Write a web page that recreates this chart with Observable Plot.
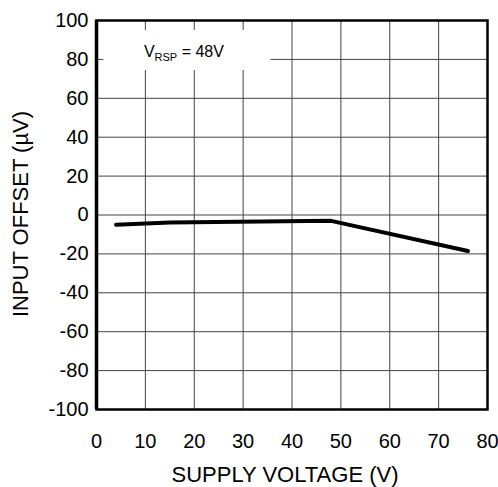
<!DOCTYPE html>
<html>
<head>
<meta charset="utf-8">
<script src="https://cdn.jsdelivr.net/npm/d3@7"></script>
<script src="https://cdn.jsdelivr.net/npm/@observablehq/plot@0.6"></script>
<style>
html,body{margin:0;padding:0;background:#fff;}
svg{display:block;}
</style>
</head>
<body>
<div id="chart"></div>
<script>
const supplyVoltage = [4, 15, 48, 76];
const inputOffset = [-5, -3.8, -3, -18.5];
const xTicks = [0, 10, 20, 30, 40, 50, 60, 70, 80];
const yTicks = [-100, -80, -60, -40, -20, 0, 20, 40, 60, 80, 100];
const annotation = {main: "V", sub: "RSP", rest: " = 48V"};

const data = supplyVoltage.map((v, i) => ({x: v, y: inputOffset[i]}));
const font = "'Liberation Sans', Arial, sans-serif";
const fmt = d => String(d);

const plot = Plot.plot({
  width: 498,
  height: 487,
  marginLeft: 96,
  marginRight: 11,
  marginTop: 20,
  marginBottom: 78,
  style: {fontFamily: font, fontSize: "20px", color: "#000", background: "#fff"},
  x: {domain: [0, 80], label: null},
  y: {domain: [-100, 100], label: null},
  marks: [
    Plot.gridX(xTicks, {stroke: "#444", strokeOpacity: 1, strokeWidth: 1}),
    Plot.gridY(yTicks, {stroke: "#444", strokeOpacity: 1, strokeWidth: 1}),
    Plot.rect([{x1: 1.5, x2: 35.7, y1: 74.3, y2: 94.9}], {x1: "x1", x2: "x2", y1: "y1", y2: "y2", fill: "#fff"}),
    Plot.line(data, {x: "x", y: "y", stroke: "#000", strokeWidth: 4, strokeLinejoin: "round"}),
    Plot.frame({stroke: "#000", strokeWidth: 2.5}),
    Plot.ruleX([0], {stroke: "#000", strokeWidth: 3.5}),
    Plot.axisX(xTicks, {tickSize: 0, tickPadding: 24, fontSize: 20, tickFormat: fmt, label: null}),
    Plot.axisY(yTicks, {tickSize: 0, tickPadding: 8, fontSize: 20, tickFormat: fmt, label: null})
  ]
});

const svg = d3.select(plot);
const xs = plot.scale("x"), ys = plot.scale("y");
const t = svg.append("text")
  .attr("x", xs.apply(9.8))
  .attr("y", ys.apply(80.8))
  .attr("text-anchor", "start")
  .attr("font-family", font)
  .attr("font-size", 16)
  .attr("fill", "#000");
t.append("tspan").text(annotation.main);
t.append("tspan").attr("font-size", 11).attr("dy", 4).text(annotation.sub);
t.append("tspan").attr("dy", -4).text(annotation.rest);

// axis titles
svg.append("text")
  .attr("x", 285).attr("y", 482)
  .attr("text-anchor", "middle")
  .attr("font-family", font).attr("font-size", 22)
  .text("SUPPLY VOLTAGE (V)");
svg.append("text")
  .attr("transform", "translate(28,214) rotate(-90)")
  .attr("text-anchor", "middle")
  .attr("font-family", font).attr("font-size", 22)
  .text("INPUT OFFSET (µV)");

document.getElementById("chart").appendChild(plot);
</script>
</body>
</html>
